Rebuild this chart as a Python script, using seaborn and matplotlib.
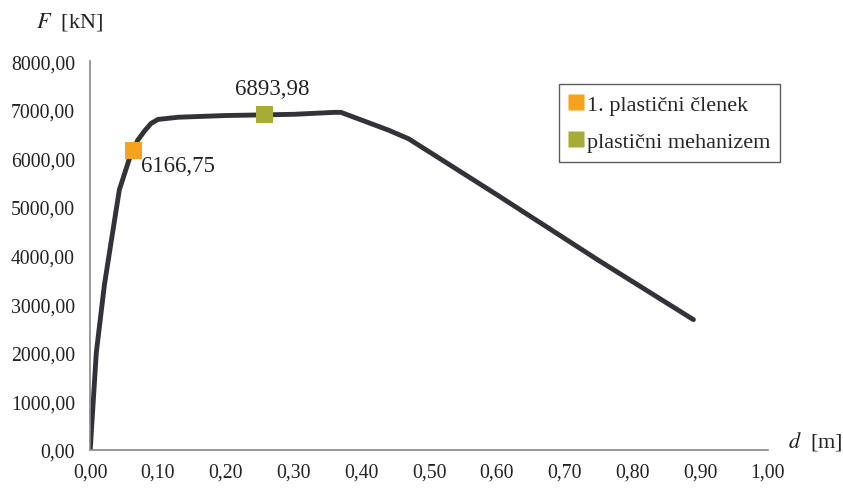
import numpy as np
import pandas as pd
import matplotlib
matplotlib.use("Agg")
import matplotlib.pyplot as plt
from matplotlib.ticker import FuncFormatter, MultipleLocator
from matplotlib.lines import Line2D
import seaborn as sns

# Curve
d_vals = [0.0, 0.009, 0.021, 0.030, 0.043, 0.058, 0.064, 0.070, 0.080, 0.090, 0.100,
          0.130, 0.200, 0.257, 0.300, 0.360, 0.370, 0.440, 0.470, 0.600, 0.750, 0.890]
F_vals = [0, 2000, 3400, 4200, 5350, 6000, 6166.75, 6370, 6560, 6720, 6800,
          6845, 6880, 6893.98, 6905, 6945, 6945, 6580, 6400, 5250, 3900, 2680]

# Marked points
point_names = ["1. plastični členek", "plastični mehanizem"]
point_d = [0.064, 0.257]
point_F = [6166.75, 6893.98]
point_colors = ["#F7A21B", "#A6AD37"]

curve = pd.DataFrame({"d": d_vals, "F": F_vals})
points = pd.DataFrame({"d": point_d, "F": point_F, "name": point_names})

sns.set_style("white")
plt.rcParams["font.family"] = ["Liberation Serif", "DejaVu Serif"]
plt.rcParams["mathtext.fontset"] = "stix"

fig = plt.figure(figsize=(8.43, 4.89), dpi=100)
ax = fig.add_axes([0.107, 0.078, 0.804, 0.795])

sns.lineplot(data=curve, x="d", y="F", ax=ax, color="#333236", linewidth=3.5,
             sort=False, legend=False, zorder=2)
sns.scatterplot(data=points, x="d", y="F", hue="name", palette=point_colors,
                marker="s", s=150, edgecolor="none", ax=ax, legend=False, zorder=3)

# value labels
ax.annotate("6166,75", (point_d[0], point_F[0]), xytext=(5, -11), textcoords="offset points",
            ha="left", va="center", fontsize=16.5, color="#222222")
ax.annotate("6893,98", (point_d[1], point_F[1]), xytext=(6, 19), textcoords="offset points",
            ha="center", va="center", fontsize=16.5, color="#222222")

ax.set_xlim(0, 1.0)
ax.set_ylim(0, 8000)
ax.xaxis.set_major_locator(MultipleLocator(0.1))
ax.yaxis.set_major_locator(MultipleLocator(1000))
ax.xaxis.set_major_formatter(FuncFormatter(lambda v, p: f"{v:.2f}".replace(".", ",")))
ax.yaxis.set_major_formatter(FuncFormatter(lambda v, p: f"{v:.2f}".replace(".", ",")))
ax.tick_params(axis="both", labelsize=14.2, colors="#888888", labelcolor="#222222",
               length=5, width=1.2, direction="out")
ax.tick_params(axis="x", pad=4)
ax.tick_params(axis="y", pad=6)
for side in ["top", "right"]:
    ax.spines[side].set_visible(False)
for side in ["left", "bottom"]:
    ax.spines[side].set_color("#888888")
    ax.spines[side].set_linewidth(1.2)
ax.set_xlabel("")
ax.set_ylabel("")

fig.text(0.043, 0.955, "$F$  [kN]", fontsize=16, color="#222222", va="center")
fig.text(0.935, 0.098, "$d$  [m]", fontsize=16, color="#222222", va="center")

handles = [Line2D([0], [0], marker="s", linestyle="none", markersize=11.5,
                  markerfacecolor=c, markeredgecolor="none") for c in point_colors]
leg = ax.legend(handles, point_names, loc="upper left", bbox_to_anchor=(0.692, 0.941),
                fontsize=16, frameon=True, fancybox=False, handlelength=0.6,
                handletextpad=0.2, borderpad=0.45, labelspacing=0.75, borderaxespad=0)
leg.get_frame().set_edgecolor("#333333")
leg.get_frame().set_linewidth(1.0)

fig.savefig("out.png", dpi=100)
